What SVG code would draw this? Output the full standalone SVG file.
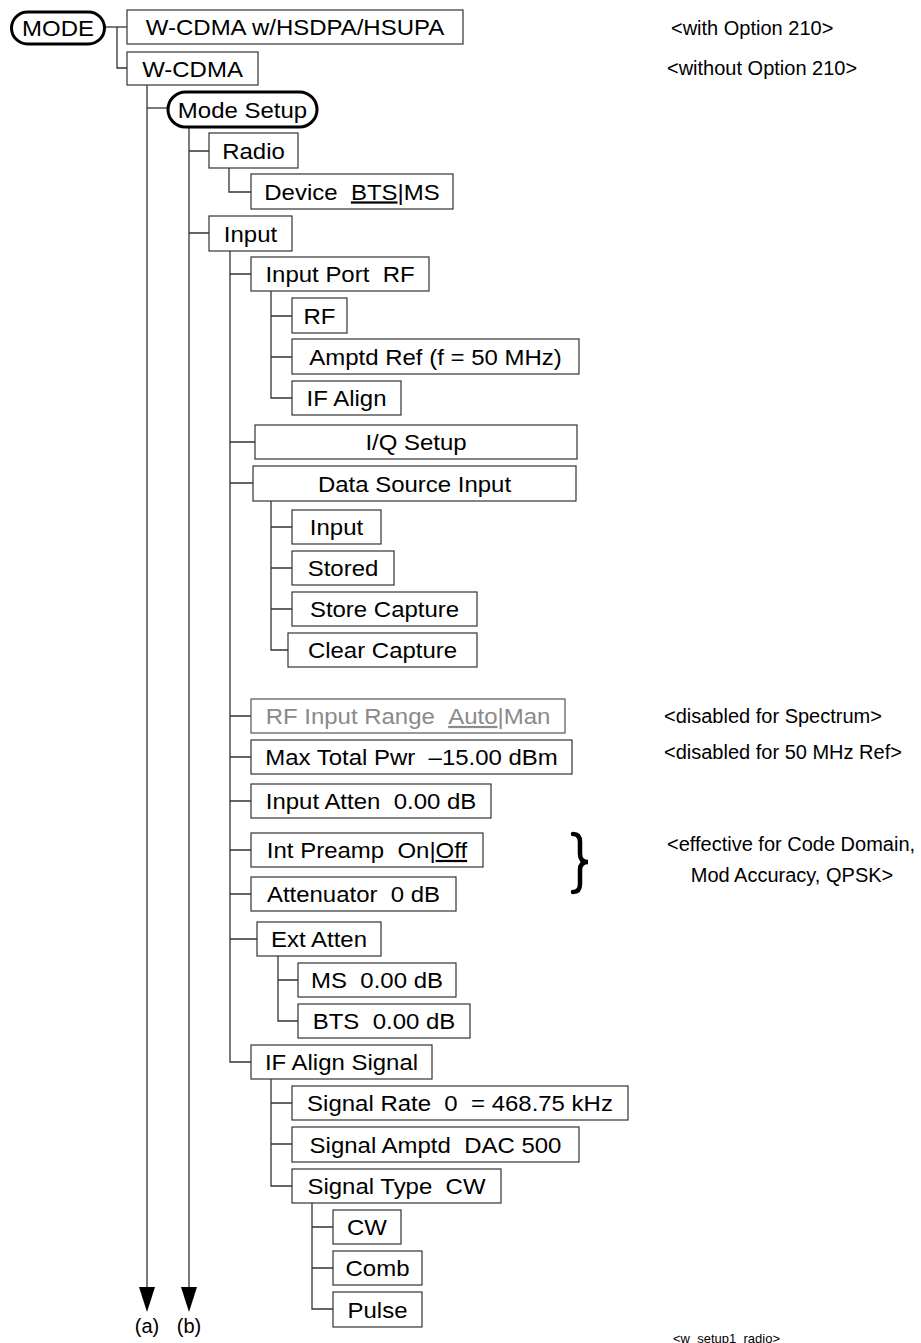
<svg xmlns="http://www.w3.org/2000/svg" width="921" height="1343" viewBox="0 0 921 1343" xml:space="preserve">
<style>
.bx{fill:#fff;stroke:#333;stroke-width:1.2}
.bxg{fill:#fff;stroke:#555;stroke-width:1.2}
.pill{fill:#fff;stroke:#000;stroke-width:3}
.t{font-family:"Liberation Sans",Arial,sans-serif;font-size:22px;fill:#000;text-anchor:middle;white-space:pre}
.tg{fill:#8a8a8a}
.ln{fill:none;stroke:#333;stroke-width:1.3}
.note{font-family:"Liberation Sans",Arial,sans-serif;font-size:20px;fill:#000;white-space:pre}
.lbl{font-family:"Liberation Sans",Arial,sans-serif;font-size:20px;fill:#000;text-anchor:middle}
.u{text-decoration:underline}
</style>
<defs>
<marker id="ah" viewBox="0 0 25 16" refX="0" refY="8" markerWidth="25" markerHeight="16" markerUnits="userSpaceOnUse" orient="auto">
<path d="M0 0 L25 8 L0 16 Z" fill="#000"/>
</marker>
</defs>
<rect width="921" height="1343" fill="#fff"/>

<g id="connectors">
<path class="ln" d="M106 27 H127"/>
<path class="ln" d="M117 27 V68 H127"/>
<path class="ln" d="M147 85 V1287" marker-end="url(#ah)"/>
<path class="ln" d="M147 108 H168"/>
<path class="ln" d="M189 127 V1287" marker-end="url(#ah)"/>
<path class="ln" d="M189 151 H209 M189 233 H209"/>
<path class="ln" d="M229 168 V192 H251"/>
<path class="ln" d="M230 251 V1062 H251"/>
<path class="ln" d="M230 274 H251 M230 442 H255 M230 483 H253 M230 716 H251 M230 757 H251 M230 801 H251 M230 850 H251 M230 894 H251 M230 939 H257"/>
<path class="ln" d="M271 291 V398 H292 M271 316 H292 M271 357 H292"/>
<path class="ln" d="M271 501 V650 H288 M271 527 H292 M271 568 H292 M271 609 H292"/>
<path class="ln" d="M278 956 V1021 H298 M278 980 H298"/>
<path class="ln" d="M271 1079 V1186 H292 M271 1103 H292 M271 1144 H292"/>
<path class="ln" d="M312 1203 V1309 H333 M312 1227 H333 M312 1268 H333"/>
</g>

<g id="n-mode"><rect class="pill" x="11.5" y="12" width="93" height="32" rx="16"/><text class="t" transform="translate(58 36) scale(1.09 1)">MODE</text></g>
<g id="n-hsdpa"><rect class="bx" x="127" y="10" width="336" height="34"/><text class="t" transform="translate(295 35) scale(1.09 1)">W-CDMA w/HSDPA/HSUPA</text></g>
<g id="n-wcdma"><rect class="bx" x="127" y="52" width="131" height="33"/><text class="t" transform="translate(192.5 76.5) scale(1.09 1)">W-CDMA</text></g>
<g id="n-modesetup"><rect class="pill" x="168" y="92" width="149" height="35" rx="17.5"/><text class="t" transform="translate(242.5 117.5) scale(1.09 1)">Mode Setup</text></g>
<g id="n-radio"><rect class="bx" x="209" y="133" width="89" height="35"/><text class="t" transform="translate(253.5 158.5) scale(1.09 1)">Radio</text></g>
<g id="n-device"><rect class="bx" x="251" y="174" width="202" height="35"/><text class="t" transform="translate(352 199.5) scale(1.09 1)">Device  <tspan class="u">BTS</tspan>|MS</text></g>
<g id="n-input"><rect class="bx" x="209" y="216" width="83" height="35"/><text class="t" transform="translate(250.5 241.5) scale(1.09 1)">Input</text></g>
<g id="n-inputport"><rect class="bx" x="251" y="257" width="178" height="34"/><text class="t" transform="translate(340 282) scale(1.09 1)">Input Port  RF</text></g>
<g id="n-rf"><rect class="bx" x="292" y="298" width="55" height="35"/><text class="t" transform="translate(319.5 323.5) scale(1.09 1)">RF</text></g>
<g id="n-amptdref"><rect class="bx" x="292" y="339" width="287" height="35"/><text class="t" transform="translate(435.5 364.5) scale(1.09 1)">Amptd Ref (f = 50 MHz)</text></g>
<g id="n-ifalign"><rect class="bx" x="292" y="381" width="109" height="34"/><text class="t" transform="translate(346.5 406) scale(1.09 1)">IF Align</text></g>
<g id="n-iqsetup"><rect class="bx" x="255" y="425" width="322" height="34"/><text class="t" transform="translate(416 450) scale(1.09 1)">I/Q Setup</text></g>
<g id="n-dsi"><rect class="bx" x="253" y="466" width="323" height="35"/><text class="t" transform="translate(414.5 491.5) scale(1.09 1)">Data Source Input</text></g>
<g id="n-dsinput"><rect class="bx" x="292" y="510" width="89" height="34"/><text class="t" transform="translate(336.5 535) scale(1.09 1)">Input</text></g>
<g id="n-stored"><rect class="bx" x="292" y="551" width="102" height="34"/><text class="t" transform="translate(343 576) scale(1.09 1)">Stored</text></g>
<g id="n-storecap"><rect class="bx" x="292" y="592" width="185" height="34"/><text class="t" transform="translate(384.5 617) scale(1.09 1)">Store Capture</text></g>
<g id="n-clearcap"><rect class="bx" x="288" y="633" width="189" height="34"/><text class="t" transform="translate(382.5 658) scale(1.09 1)">Clear Capture</text></g>
<g id="n-rfrange"><rect class="bxg" x="251" y="699" width="314" height="34"/><text class="t tg" transform="translate(408 724) scale(1.09 1)">RF Input Range  <tspan class="u">Auto</tspan>|Man</text></g>
<g id="n-maxpwr"><rect class="bx" x="251" y="740" width="321" height="34"/><text class="t" transform="translate(411.5 765) scale(1.09 1)">Max Total Pwr  –15.00 dBm</text></g>
<g id="n-inatten"><rect class="bx" x="251" y="784" width="240" height="34"/><text class="t" transform="translate(371 809) scale(1.09 1)">Input Atten  0.00 dB</text></g>
<g id="n-preamp"><rect class="bx" x="251" y="833" width="232" height="34"/><text class="t" transform="translate(367 858) scale(1.09 1)">Int Preamp  On|<tspan class="u">Off</tspan></text></g>
<g id="n-attenuator"><rect class="bx" x="251" y="877" width="205" height="34"/><text class="t" transform="translate(353.5 902) scale(1.09 1)">Attenuator  0 dB</text></g>
<g id="n-extatten"><rect class="bx" x="257" y="922" width="124" height="34"/><text class="t" transform="translate(319 947) scale(1.09 1)">Ext Atten</text></g>
<g id="n-ms"><rect class="bx" x="298" y="963" width="158" height="34"/><text class="t" transform="translate(377 988) scale(1.09 1)">MS  0.00 dB</text></g>
<g id="n-bts"><rect class="bx" x="298" y="1004" width="172" height="34"/><text class="t" transform="translate(384 1029) scale(1.09 1)">BTS  0.00 dB</text></g>
<g id="n-ifsignal"><rect class="bx" x="251" y="1045" width="181" height="34"/><text class="t" transform="translate(341.5 1070) scale(1.09 1)">IF Align Signal</text></g>
<g id="n-sigrate"><rect class="bx" x="292" y="1086" width="336" height="34"/><text class="t" transform="translate(460 1111) scale(1.09 1)">Signal Rate  0  = 468.75 kHz</text></g>
<g id="n-sigamptd"><rect class="bx" x="292" y="1127" width="287" height="35"/><text class="t" transform="translate(435.5 1152.5) scale(1.09 1)">Signal Amptd  DAC 500</text></g>
<g id="n-sigtype"><rect class="bx" x="292" y="1169" width="209" height="34"/><text class="t" transform="translate(396.5 1194) scale(1.09 1)">Signal Type  CW</text></g>
<g id="n-cw"><rect class="bx" x="333" y="1210" width="68" height="34"/><text class="t" transform="translate(367 1235) scale(1.09 1)">CW</text></g>
<g id="n-comb"><rect class="bx" x="333" y="1251" width="89" height="34"/><text class="t" transform="translate(377.5 1276) scale(1.09 1)">Comb</text></g>
<g id="n-pulse"><rect class="bx" x="333" y="1292" width="89" height="35"/><text class="t" transform="translate(377.5 1317.5) scale(1.09 1)">Pulse</text></g>

<g id="notes">
<text class="note" x="671" y="34.5">&lt;with Option 210&gt;</text>
<text class="note" x="667" y="75">&lt;without Option 210&gt;</text>
<text class="note" x="664" y="723">&lt;disabled for Spectrum&gt;</text>
<text class="note" x="664" y="759">&lt;disabled for 50 MHz Ref&gt;</text>
<text class="note" x="667" y="851">&lt;effective for Code Domain,</text>
<text class="note" x="792" y="882" text-anchor="middle">Mod Accuracy, QPSK&gt;</text>
<path d="M573 834 Q580 834 580 842 L580 854 Q580 862 588 862 Q580 862 580 870 L580 884 Q580 892 573 892" fill="none" stroke="#000" stroke-width="4.5" stroke-linecap="round"/>
<text class="lbl" x="147" y="1333">(a)</text>
<text class="lbl" x="189" y="1333">(b)</text>
<text font-family="'Liberation Sans',Arial,sans-serif" font-size="13" x="673" y="1342.5">&lt;w_setup1_radio&gt;</text>
</g>
</svg>
